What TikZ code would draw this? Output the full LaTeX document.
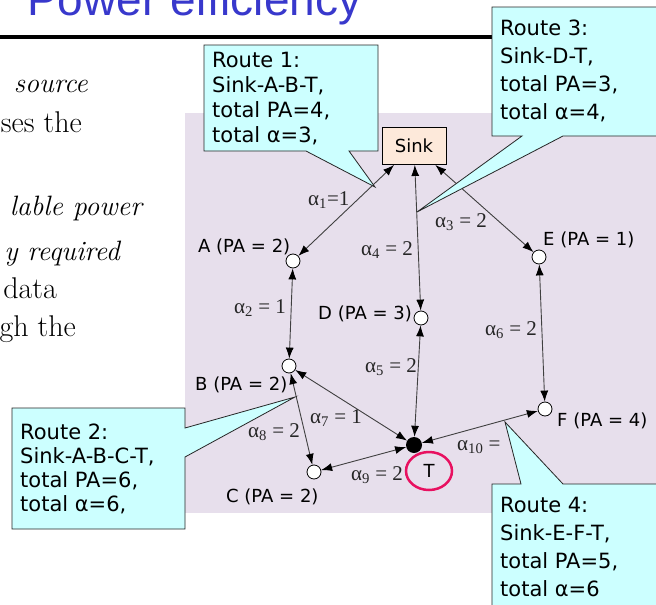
\documentclass[tikz,border=0pt]{standalone}
\usepackage{fontspec}
\newfontfamily\tahoma{DejaVu Sans}
\newfontfamily\arialfont{Liberation Sans}
\newfontfamily\timesfont{Liberation Serif}
\definecolor{slidebg}{RGB}{231,223,236}
\definecolor{notecyan}{RGB}{204,255,255}
\definecolor{sinkpeach}{RGB}{253,233,218}
\definecolor{titleblue}{RGB}{56,56,204}
\definecolor{markred}{RGB}{232,16,96}
\usetikzlibrary{arrows.meta,shapes.geometric}

\begin{document}
\begin{tikzpicture}[x=1pt,y=-1pt,
  sensor/.style={circle, draw=black, fill=white, line width=0.8pt, minimum size=14pt, inner sep=0pt},
  target/.style={circle, fill=black, minimum size=16pt, inner sep=0pt},
  nodelbl/.style={anchor=base west, inner sep=0pt, font=\tahoma\fontsize{18}{20}\selectfont},
  cost/.style={anchor=base west, inner sep=0pt, text=black!85, font=\timesfont\fontsize{21}{23}\selectfont},
  link/.style={draw=black!75, line width=0.9pt, >={Latex[length=11pt,width=8pt,color=black]}, <->},
  note/.style={draw=black!85, fill=notecyan, line width=0.8pt},
  notetext/.style={anchor=north west, inner sep=0pt, align=left, font=\tahoma\fontsize{21}{25}\selectfont},
  slidetext/.style={anchor=base east, inner sep=0pt, font=\fontsize{30}{32}\selectfont}
]
  \useasboundingbox (0,0) rectangle (656,605);
  \clip (0,0) rectangle (656,605);
  \fill[white] (0,0) rectangle (656,605);

  %% Slide behind the figure
  \node[anchor=base west, inner sep=0pt, text=titleblue, font=\arialfont\fontsize{46}{50}\selectfont] (title) at (27,16) {Power efficiency};
  \draw[line width=4pt] (0,37) -- (560,37);
  \node[slidetext, font=\itshape\fontsize{28}{30}\selectfont] (s1) at (88,92) {source};
  \node[slidetext] (s2) at (82,132) {ses the};
  \node[slidetext, font=\itshape\fontsize{28}{30}\selectfont] (s3) at (142,215) {lable power};
  \node[slidetext, font=\itshape\fontsize{28}{30}\selectfont] (s4) at (120,260) {y required};
  \node[slidetext] (s5) at (57,298) {data};
  \node[slidetext] (s6) at (76,336) {gh the};

  %% Figure panel
  \fill[slidebg] (185,113) rectangle (656,513);

  %% Nodes
  \node[draw=black, fill=sinkpeach, line width=0.9pt, minimum width=64pt, minimum height=37pt, inner sep=0pt, font=\tahoma\fontsize{18}{20}\selectfont] (sink) at (414,146) {Sink};
  \node[sensor] (a) at (293,261) {};
  \node[sensor] (b) at (289,366) {};
  \node[sensor] (c) at (314,472) {};
  \node[sensor] (d) at (421,318) {};
  \node[sensor] (e) at (539,257) {};
  \node[sensor] (f) at (545,409) {};
  \node[target] (t) at (414,445) {};

  %% Links
  \draw[link] (sink) -- (a);
  \draw[link] (sink) -- (d);
  \draw[link] (sink) -- (e);
  \draw[link] (a) -- (b);
  \draw[link] (d) -- (t);
  \draw[link] (e) -- (f);
  \draw[link] (b) -- (t);
  \draw[link] (b) -- (c);
  \draw[link] (c) -- (t);
  \draw[link] (f) -- (t);

  %% Node labels
  \node[nodelbl] (la) at (198,252) {A (PA = 2)};
  \node[nodelbl] (lb) at (195,390) {B (PA = 2)};
  \node[nodelbl] (lc) at (226,502) {C (PA = 2)};
  \node[nodelbl] (ld) at (318,319) {D (PA = 3)};
  \node[nodelbl] (le) at (543,245) {E (PA = 1)};
  \node[nodelbl] (lf) at (557,426) {F (PA = 4)};
  \node[ellipse, draw=markred, line width=2.5pt, minimum width=46pt, minimum height=38pt, inner sep=0pt, font=\tahoma\fontsize{18}{20}\selectfont] (tmark) at (429,471) {T};

  %% Link costs
  \node[cost] (al1) at (308,205) {α\textsubscript{1}=1};
  \node[cost] (al2) at (234,313) {α\textsubscript{2} = 1};
  \node[cost] (al3) at (435,227) {α\textsubscript{3} = 2};
  \node[cost] (al4) at (361,255) {α\textsubscript{4} = 2};
  \node[cost] (al5) at (365,372) {α\textsubscript{5} = 2};
  \node[cost] (al6) at (485,335) {α\textsubscript{6} = 2};
  \node[cost] (al7) at (310,423) {α\textsubscript{7} = 1};
  \node[cost] (al8) at (248,437) {α\textsubscript{8} = 2};
  \node[cost] (al9) at (351,480) {α\textsubscript{9} = 2};
  \node[cost] (al10) at (457,450) {α\textsubscript{10} =};

  %% Route callouts
  \draw[note] (204,45) -- (378,45) -- (378,151) -- (349,151) -- (375,187) -- (306,151) -- (204,151) -- cycle;
  \node[notetext] (route1) at (212,52) {Route 1:\\Sink-A-B-T,\\total PA=4,\\total α=3,};

  \draw[note] (12,408) -- (185,408) -- (185,428) -- (295,397) -- (185,457) -- (185,529) -- (12,529) -- cycle;
  \node[notetext, font=\tahoma\fontsize{21}{24}\selectfont] (route2) at (20,424) {Route 2:\\Sink-A-B-C-T,\\total PA=6,\\total α=6,};

  \draw[note] (492,7) -- (670,7) -- (670,136) -- (563,136) -- (417,212) -- (522,136) -- (492,136) -- cycle;
  \node[notetext, font=\tahoma\fontsize{21}{28}\selectfont] (route3) at (500,20) {Route 3:\\Sink-D-T,\\total PA=3,\\total α=4,};

  \draw[note] (492,484) -- (521,484) -- (505,422) -- (563,484) -- (670,484) -- (670,620) -- (492,620) -- cycle;
  \node[notetext, font=\tahoma\fontsize{21}{28}\selectfont] (route4) at (500,497) {Route 4:\\Sink-E-F-T,\\total PA=5,\\total α=6};
\end{tikzpicture}
\end{document}
